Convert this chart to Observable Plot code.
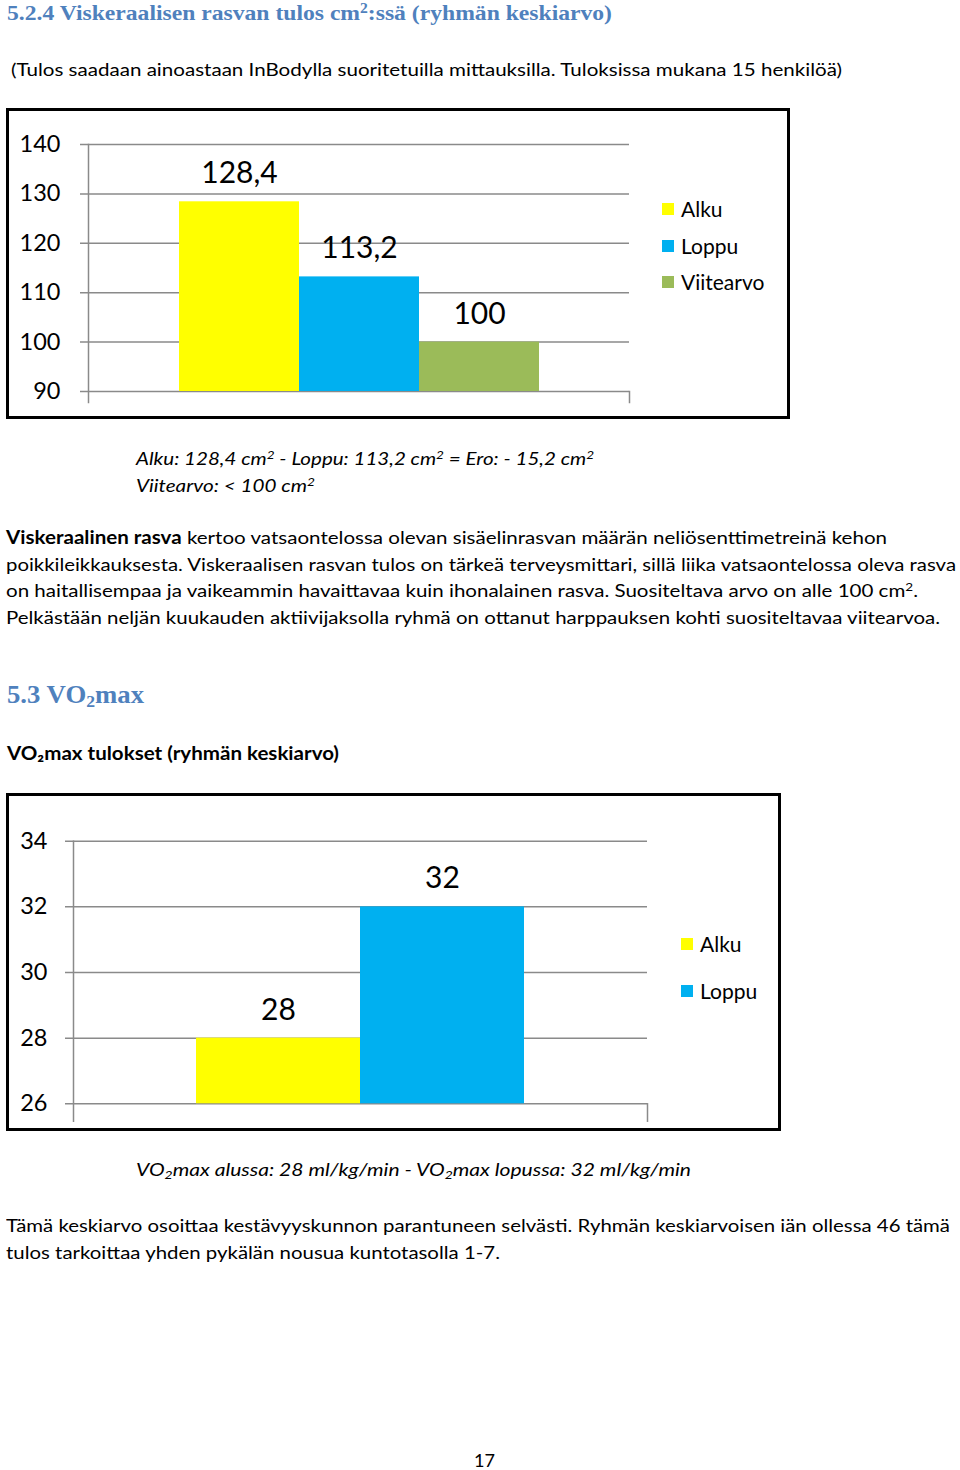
<!DOCTYPE html>
<html><head><meta charset="utf-8">
<script src="https://cdn.jsdelivr.net/npm/d3@7"></script>
<script src="https://cdn.jsdelivr.net/npm/@observablehq/plot@0.6"></script>
<style>
html,body{margin:0;padding:0;background:#fff;}
#page{position:relative;width:960px;height:1470px;overflow:hidden;background:#fff;color:#000;font-family:Lato,sans-serif;}
.t{position:absolute;white-space:nowrap;line-height:1.2;transform-origin:0 50%;}
sup{font-size:0.66em;vertical-align:0.5em;line-height:0;}
sub{font-size:0.66em;vertical-align:-0.22em;line-height:0;}
.box{position:absolute;border:3px solid #000;box-sizing:border-box;}
.chart{position:absolute;}
.leg{position:absolute;white-space:nowrap;font-family:Lato,sans-serif;line-height:1.2;}
.sw{position:absolute;width:12px;height:12px;}
</style></head><body><div id="page"></div>
<script>
// ---- data ----
const fatSeries = ["Alku", "Loppu", "Viitearvo"];
const fatValues = [128.4, 113.2, 100];
const fatLabels = ["128,4", "113,2", "100"];
const fatTicks = [90, 100, 110, 120, 130, 140];

const vo2Series = ["Alku", "Loppu"];
const vo2Values = [28, 32];
const vo2Labels = ["28", "32"];
const vo2Ticks = [26, 28, 30, 32, 34];

const seriesColors = {Alku: "#ffff00", Loppu: "#00b0f0", Viitearvo: "#9bbb59"};

const page = document.getElementById("page");

function txt(html, x, cy, fs, opt = {}) {
  const d = document.createElement("div");
  d.className = "t";
  d.innerHTML = html;
  d.style.left = x + "px";
  d.style.fontSize = fs + "px";
  d.style.top = (cy - 0.62 * fs) + "px";
  if (opt.family) d.style.fontFamily = opt.family;
  if (opt.weight) d.style.fontWeight = opt.weight;
  if (opt.italic) d.style.fontStyle = "italic";
  if (opt.color) d.style.color = opt.color;
  page.appendChild(d);
  if (opt.w) {
    const w = d.getBoundingClientRect().width;
    d.style.transform = `scaleX(${(opt.w / w).toFixed(4)})`;
  }
  return d;
}

function drawChart(cfg) {
  const box = document.createElement("div");
  box.className = "box";
  Object.assign(box.style, {left: cfg.left + "px", top: cfg.top + "px", width: cfg.w + "px", height: cfg.h + "px"});
  page.appendChild(box);

  const data = cfg.series.map((s, i) => ({series: s, value: cfg.values[i], label: cfg.labels[i]}));
  const y0 = cfg.ticks[0], y1 = cfg.ticks[cfg.ticks.length - 1];
  const grid = "#8a8a8a";
  const svg = Plot.plot({
    width: cfg.w, height: cfg.h,
    marginLeft: cfg.axisX, marginRight: cfg.w - cfg.rightX,
    marginTop: cfg.topY, marginBottom: cfg.h - cfg.bottomY,
    style: {fontFamily: "Lato, sans-serif", background: "transparent", color: "#000", overflow: "visible"},
    x: {type: "band", domain: cfg.series, paddingInner: 0, paddingOuter: 0.75, axis: null},
    y: {domain: [y0, y1], range: [cfg.baseY, cfg.topY]},
    color: {domain: cfg.series, range: cfg.series.map(s => seriesColors[s])},
    marks: [
      Plot.ruleY(cfg.ticks, {stroke: grid, strokeWidth: 1.5, insetLeft: -8}),
      Plot.frame({anchor: "left", stroke: grid, strokeWidth: 1.5}),
      Plot.frame({anchor: "right", stroke: grid, strokeWidth: 1.5, insetTop: cfg.baseY - cfg.topY}),
      Plot.axisY({ticks: cfg.ticks, tickSize: 0, tickPadding: cfg.axisX - cfg.labelRight, fontSize: cfg.tickFont, label: null, tickFormat: d => String(d)}),
      Plot.barY(data, {x: "series", y1: y0, y2: "value", fill: "series"}),
      Plot.text(data, {x: "series", y: "value", text: "label", lineAnchor: "bottom", dy: -18.5, fontSize: cfg.labelFont, fill: "#000"})
    ]
  });
  svg.classList.add("chart");
  svg.style.left = cfg.left + "px";
  svg.style.top = cfg.top + "px";
  page.appendChild(svg);

  cfg.series.forEach((s, i) => {
    const cy = cfg.legY + i * cfg.legStep;
    const sw = document.createElement("div");
    sw.className = "sw";
    sw.style.left = cfg.legX + "px";
    sw.style.top = (cy - 6) + "px";
    sw.style.background = seriesColors[s];
    page.appendChild(sw);
    const t = document.createElement("div");
    t.className = "leg";
    t.textContent = s;
    t.style.fontSize = cfg.legFont + "px";
    t.style.left = (cfg.legX + 19) + "px";
    t.style.top = (cy - 0.62 * cfg.legFont) + "px";
    page.appendChild(t);
  });
}

// ---- texts & charts ----
const blue = "#4f81bd";
const serif = "'Liberation Serif', 'DejaVu Serif', serif";

txt("5.2.4 Viskeraalisen rasvan tulos cm<sup>2</sup>:ssä (ryhmän keskiarvo)", 7, 13.5, 22, {family: serif, weight: 700, color: blue, w: 605});
txt("(Tulos saadaan ainoastaan InBodylla suoritetuilla mittauksilla. Tuloksissa mukana 15 henkilöä)", 11, 70.5, 18, {w: 831});

drawChart({
  series: fatSeries, values: fatValues, labels: fatLabels, ticks: fatTicks,
  left: 6, top: 108, w: 784, h: 311,
  axisX: 82, rightX: 623, topY: 36, baseY: 283, bottomY: 294, labelRight: 54,
  tickFont: 23.5, labelFont: 30,
  legX: 662, legY: 209, legStep: 36.7, legFont: 21
});

txt("Alku: 128,4 cm<sup>2</sup> - Loppu: 113,2 cm<sup>2</sup> = Ero: - 15,2 cm<sup>2</sup>", 136, 459.5, 18, {italic: true, w: 458});
txt("Viitearvo: &lt; 100 cm<sup>2</sup>", 136, 486, 18, {italic: true, w: 179});

txt("<b>Viskeraalinen rasva</b> kertoo vatsaontelossa olevan sisäelinrasvan määrän neliösenttimetreinä kehon", 6, 538.5, 18, {w: 881});
txt("poikkileikkauksesta. Viskeraalisen rasvan tulos on tärkeä terveysmittari, sillä liika vatsaontelossa oleva rasva", 6, 565, 18, {w: 950});
txt("on haitallisempaa ja vaikeammin havaittavaa kuin ihonalainen rasva. Suositeltava arvo on alle 100 cm<sup>2</sup>.", 6, 591.5, 18, {w: 912});
txt("Pelkästään neljän kuukauden aktiivijaksolla ryhmä on ottanut harppauksen kohti suositeltavaa viitearvoa.", 6, 618, 18, {w: 934});

txt("5.3 VO<sub>2</sub>max", 7, 695, 25, {family: serif, weight: 700, color: blue, w: 137});
txt("VO₂max tulokset (ryhmän keskiarvo)", 7, 753, 19.5, {weight: 700, w: 332});

drawChart({
  series: vo2Series, values: vo2Values, labels: vo2Labels, ticks: vo2Ticks,
  left: 6, top: 793, w: 775, h: 338,
  axisX: 67, rightX: 641, topY: 47.7, baseY: 310.3, bottomY: 327.7, labelRight: 41,
  tickFont: 23.5, labelFont: 30,
  legX: 681, legY: 944, legStep: 47, legFont: 21
});

txt("VO<sub>2</sub>max alussa: 28 ml/kg/min - VO<sub>2</sub>max lopussa: 32 ml/kg/min", 136, 1170.5, 18, {italic: true, w: 555});

txt("Tämä keskiarvo osoittaa kestävyyskunnon parantuneen selvästi. Ryhmän keskiarvoisen iän ollessa 46 tämä", 6, 1226, 18, {w: 944});
txt("tulos tarkoittaa yhden pykälän nousua kuntotasolla 1-7.", 6, 1253, 18, {w: 494});

txt("17", 474, 1461, 18, {w: 21});
</script>
</body></html>
